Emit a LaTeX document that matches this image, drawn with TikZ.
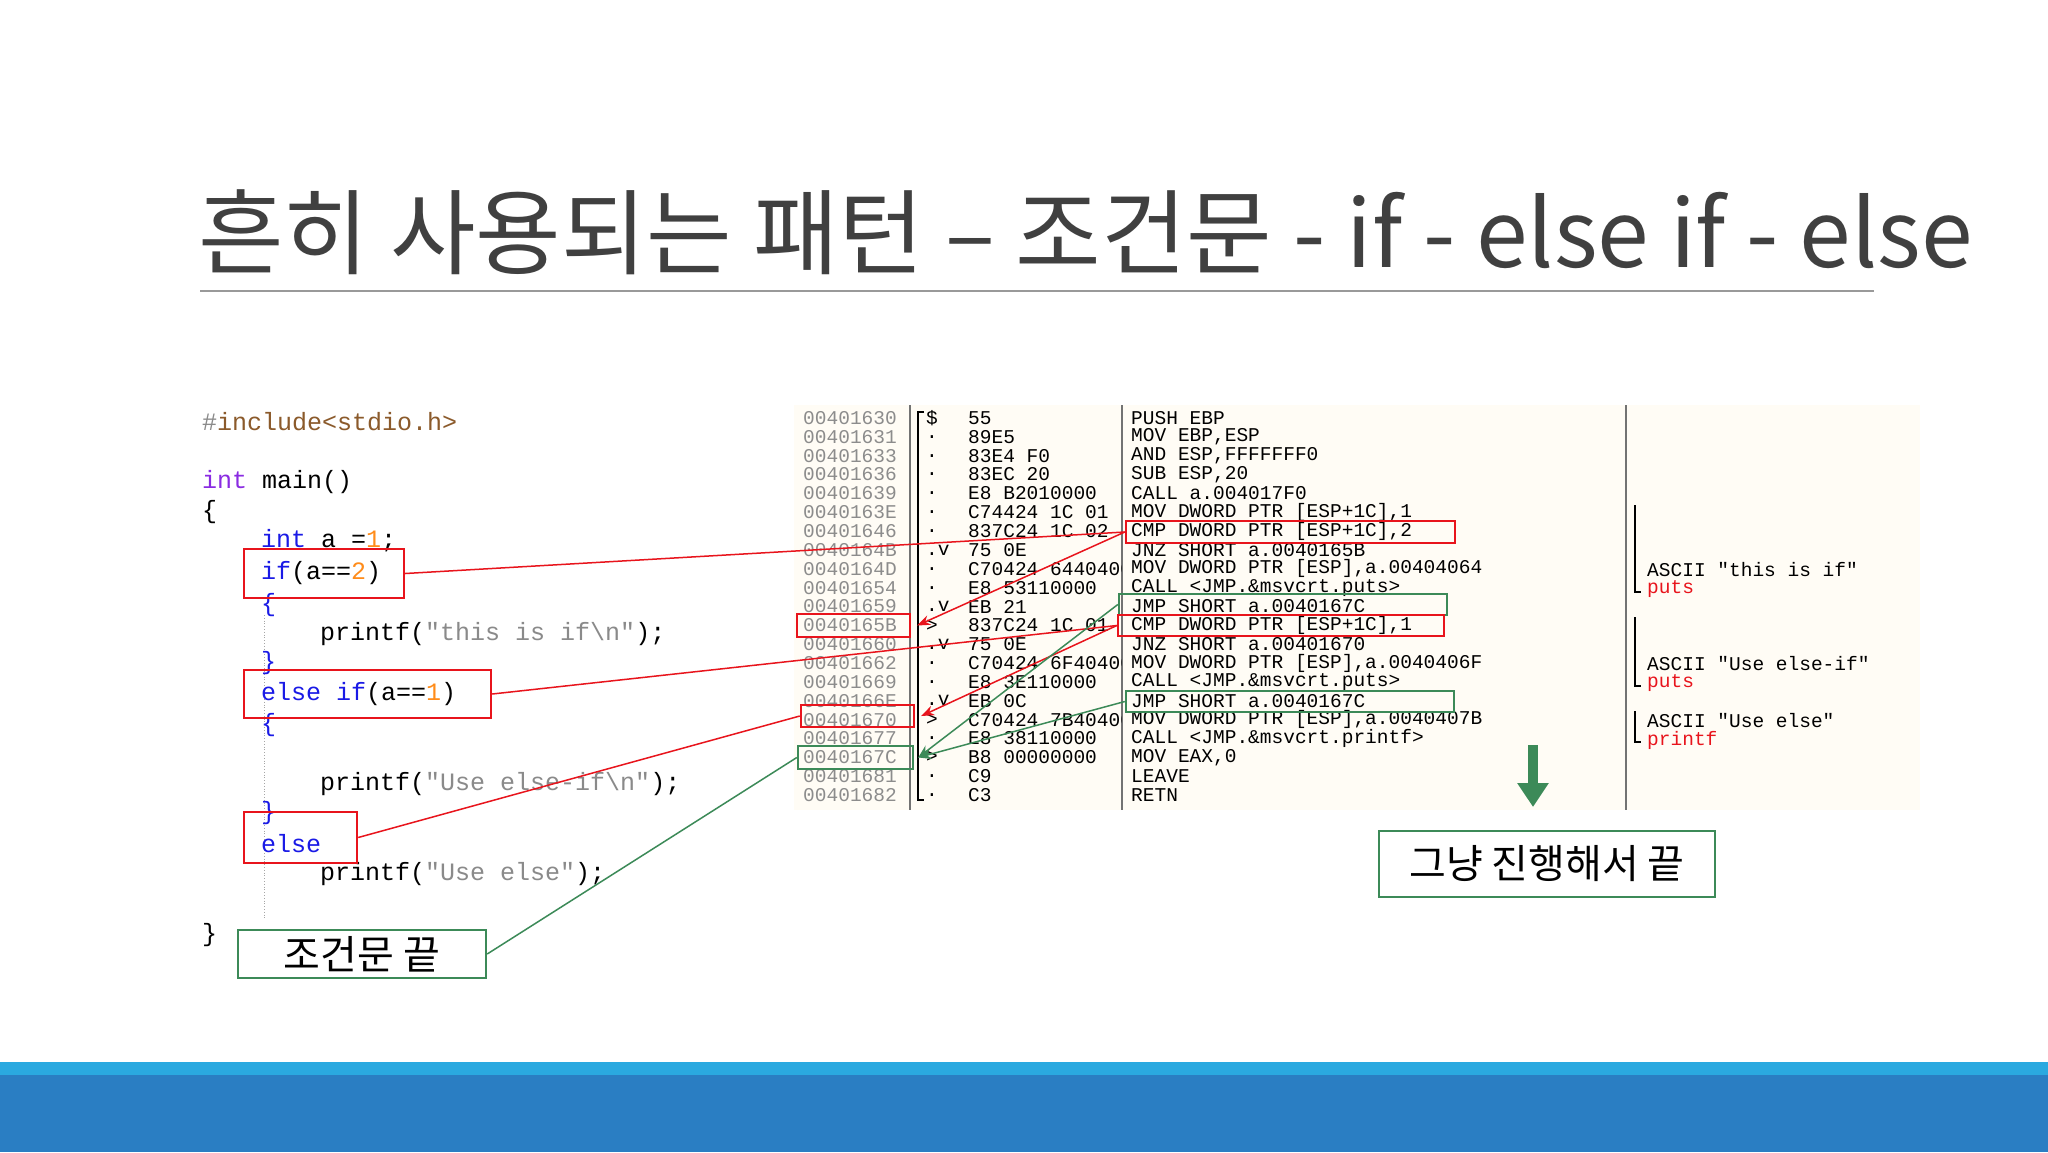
\documentclass[tikz,border=0pt]{standalone}
\usepackage{fontspec}
\usetikzlibrary{arrows.meta}
\setmainfont{Liberation Sans}
\newfontfamily\krfont{Noto Sans CJK KR}
\newfontfamily\codefont{Liberation Mono}
\definecolor{myred}{HTML}{E8141C}
\definecolor{mygreen}{HTML}{3C8A58}
\definecolor{addrgray}{HTML}{8C8C8C}
\definecolor{kwblue}{HTML}{1A1AE6}
\definecolor{numorange}{HTML}{FF8C1A}
\definecolor{strgray}{HTML}{8A8A8A}
\definecolor{kwpurple}{HTML}{8A2BE2}
\definecolor{incbrown}{HTML}{8B5A2B}
\definecolor{panelbg}{HTML}{FFFCF5}
\definecolor{barlight}{HTML}{2AA9E0}
\definecolor{bardark}{HTML}{2A7EC3}
\newcommand\kwd[1]{\textcolor{kwblue}{#1}}
\newcommand\numc[1]{\textcolor{numorange}{#1}}
\newcommand\strc[1]{\textcolor{strgray}{#1}}
\newcommand\asmrow[5]{%
  \node[asmtxt,text=addrgray] (a#1) at (803,{418+18.85*(#1-1)}) {#2};
  \node[asmtxt] (m#1) at (926,{418+18.85*(#1-1)}) {#3};
  \begin{scope}\clip (960,{408+18.85*(#1-1)}) rectangle (1121,{428+18.85*(#1-1)});
  \node[asmtxt] (h#1) at (968,{418+18.85*(#1-1)}) {#4};\end{scope}
  \node[asmtxt] (i#1) at (1131,{418+18.85*(#1-1)}) {#5};}
\begin{document}
\begin{tikzpicture}[x=1pt,y=-1pt,
  asmtxt/.style={anchor=west,inner sep=0pt,font=\codefont\fontsize{19.5}{20}\selectfont},
  codetxt/.style={anchor=west,inner sep=0pt,font=\codefont\fontsize{25}{26}\selectfont},
  redbox/.style={draw=myred,line width=2.4pt,inner sep=0pt},
  greenbox/.style={draw=mygreen,line width=2.4pt,inner sep=0pt},
  redline/.style={myred,line width=1.5pt},
  greenline/.style={mygreen,line width=1.5pt},
  tip/.style={-{Stealth[length=13pt,width=10pt]}}]
\useasboundingbox (0,0) rectangle (2048,1152);
\fill[white] (0,0) rectangle (2048,1152);
% title
\node[anchor=west,inner sep=0pt,text=black!75,font=\krfont\fontsize{93}{98}\selectfont] (title) at (198,232) {흔히 사용되는 패턴 – 조건문 - if - else if - else};
\draw[black!40,line width=1.5pt] (200,291) coordinate (u1) -- (1874,291) coordinate (u2);
% bottom bars
\fill[barlight] (0,1062) rectangle (2048,1075);
\fill[bardark] (0,1075) rectangle (2048,1152);
% panel
\fill[panelbg] (794,405) rectangle (1920,810);
\draw[black!55,line width=1.3pt] (910,405) -- (910,810);
\draw[black!55,line width=1.3pt] (1122,405) -- (1122,810);
\draw[black!55,line width=1.3pt] (1626,405) -- (1626,810);
\draw[black,line width=2.8pt] (924,412) -- (918,412) -- (918,800) -- (924,800);
\asmrow{1}{00401630}{\$}{55}{PUSH EBP}
\asmrow{2}{00401631}{.}{89E5}{MOV EBP,ESP}
\asmrow{3}{00401633}{.}{83E4 F0}{AND ESP,FFFFFFF0}
\asmrow{4}{00401636}{.}{83EC 20}{SUB ESP,20}
\asmrow{5}{00401639}{.}{E8 B2010000}{CALL a.004017F0}
\asmrow{6}{0040163E}{.}{C74424 1C 01}{MOV DWORD PTR [ESP+1C],1}
\asmrow{7}{00401646}{.}{837C24 1C 02}{CMP DWORD PTR [ESP+1C],2}
\asmrow{8}{0040164B}{.v}{75 0E}{JNZ SHORT a.0040165B}
\asmrow{9}{0040164D}{.}{C70424 64404000}{MOV DWORD PTR [ESP],a.00404064}
\asmrow{10}{00401654}{.}{E8 53110000}{CALL <JMP.\&msvcrt.puts>}
\asmrow{11}{00401659}{.v}{EB 21}{JMP SHORT a.0040167C}
\asmrow{12}{0040165B}{>}{837C24 1C 01}{CMP DWORD PTR [ESP+1C],1}
\asmrow{13}{00401660}{.v}{75 0E}{JNZ SHORT a.00401670}
\asmrow{14}{00401662}{.}{C70424 6F404000}{MOV DWORD PTR [ESP],a.0040406F}
\asmrow{15}{00401669}{.}{E8 3E110000}{CALL <JMP.\&msvcrt.puts>}
\asmrow{16}{0040166E}{.v}{EB 0C}{JMP SHORT a.0040167C}
\asmrow{17}{00401670}{>}{C70424 7B404000}{MOV DWORD PTR [ESP],a.0040407B}
\asmrow{18}{00401677}{.}{E8 38110000}{CALL <JMP.\&msvcrt.printf>}
\asmrow{19}{0040167C}{>}{B8 00000000}{MOV EAX,0}
\asmrow{20}{00401681}{.}{C9}{LEAVE}
\asmrow{21}{00401682}{.}{C3}{RETN}
% comments
\draw[black,line width=2.8pt] (1635,505) -- (1635,592) -- (1641,592);
\draw[black,line width=2.8pt] (1635,617) -- (1635,686) -- (1641,686);
\draw[black,line width=2.8pt] (1635,711) -- (1635,742) -- (1641,742);
\node[asmtxt] (c1) at (1647,570) {ASCII "this is if"};
\node[asmtxt,text=myred] (c2) at (1647,589) {puts};
\node[asmtxt] (c3) at (1647,664) {ASCII "Use else-if"};
\node[asmtxt,text=myred] (c4) at (1647,683) {puts};
\node[asmtxt] (c5) at (1647,721) {ASCII "Use else"};
\node[asmtxt,text=myred] (c6) at (1647,740) {printf};
% code
\draw[black!35,line width=0.8pt,dotted] (264,615) -- (264,920);
\node[codetxt,text=incbrown] (l1) at (202,422) {\textcolor{strgray}{\#}include<stdio.h>};
\node[codetxt] (l2) at (202,482) {\textcolor{kwpurple}{int} main()};
\node[codetxt] (l3) at (202,512) {\{};
\node[codetxt] (l4) at (261,541) {\kwd{int} a =\numc{1};};
\node[codetxt] (l5) at (261,573) {\kwd{if}(a==\numc{2})};
\node[codetxt] (l6) at (261,605) {\kwd{\{}};
\node[codetxt] (l7) at (320,634) {printf(\strc{"this is if\textbackslash n"});};
\node[codetxt] (l8) at (261,663) {\kwd{\}}};
\node[codetxt] (l9) at (261,694) {\kwd{else if}(a==\numc{1})};
\node[codetxt] (l10) at (261,725) {\kwd{\{}};
\node[codetxt] (l11) at (320,784) {printf(\strc{"Use else-if\textbackslash n"});};
\node[codetxt] (l12) at (261,813) {\kwd{\}}};
\node[codetxt] (l13) at (261,844) {\kwd{else}};
\node[codetxt] (l14) at (320,874) {printf(\strc{"Use else"});};
\node[codetxt] (l15) at (202,935) {\}};
% boxes
\node[redbox,minimum width=160pt,minimum height=49pt] (bif) at (324,573.5) {};
\node[redbox,minimum width=247pt,minimum height=48pt] (belif) at (367.5,694) {};
\node[redbox,minimum width=113pt,minimum height=51pt] (belse) at (300.5,837.5) {};
\node[greenbox,minimum width=248pt,minimum height=48pt,font=\krfont\fontsize{40}{42}\selectfont] (bend) at (362,954) {조건문 끝};
\node[redbox,minimum width=329pt,minimum height=22pt] (bcmp2) at (1290.5,532) {};
\node[greenbox,minimum width=328pt,minimum height=21pt] (bjmp1) at (1283,604.5) {};
\node[redbox,minimum width=326pt,minimum height=21pt] (bcmp1) at (1281,625.5) {};
\node[greenbox,minimum width=328pt,minimum height=21pt] (bjmp2) at (1290,701.5) {};
\node[redbox,minimum width=113pt,minimum height=23pt] (b65b) at (853.5,625.5) {};
\node[redbox,minimum width=113pt,minimum height=22pt] (b670) at (857.5,716) {};
\node[greenbox,minimum width=115pt,minimum height=23pt] (b67c) at (855.5,757.5) {};
\node[greenbox,minimum width=336pt,minimum height=66pt,font=\krfont\fontsize{40}{42}\selectfont] (bgo) at (1547,864) {그냥 진행해서 끝};
% connectors
\draw[redline] (bif.east) -- (bcmp2.west);
\draw[redline] (belif.east) -- (bcmp1.west);
\draw[redline] (belse.east) -- (b670.west);
\draw[greenline] (bend.east) -- (b67c.west);
\draw[redline,tip] (bcmp2.west) -- ([xshift=6pt]b65b.east);
\draw[redline,tip] (bcmp1.west) -- ([xshift=6pt]b670.east);
\draw[greenline,tip] (bjmp1.west) -- ([xshift=4pt]b67c.east);
\draw[greenline,tip] (bjmp2.west) -- ([xshift=4pt]b67c.east);
% down arrow
\coordinate (da1) at (1533,745);
\coordinate (da2) at (1533,807);
\draw[mygreen,line width=10pt,-{Triangle[length=24pt,width=30pt]}] (da1) -- (da2);
\end{tikzpicture}
\end{document}
